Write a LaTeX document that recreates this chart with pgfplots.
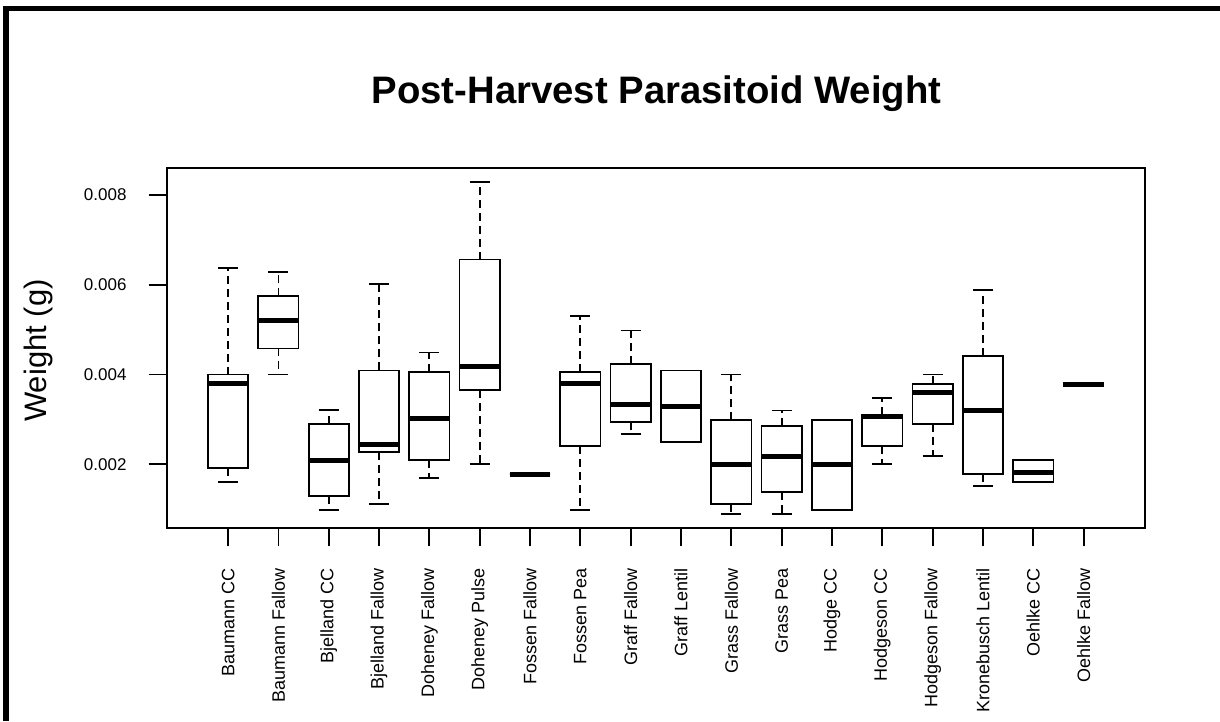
\documentclass[border=0pt]{standalone}
\usepackage{fontspec}
\setmainfont{Liberation Sans}
\usepackage{pgfplots}
\pgfplotsset{compat=1.18}
\usepgfplotslibrary{statistics}
\begin{document}
\begin{tikzpicture}[x=1pt,y=1pt]
\path[use as bounding box] (0,0) rectangle (1220,721);
\fill[black] (3,0) rectangle (9,715);
\fill[black] (3,710) rectangle (1220,715);
\node[anchor=base, font=\fontsize{38.3}{38.3}\selectfont\bfseries] at (656.5,617) {Post-Harvest Parasitoid Weight};
\node[anchor=base, rotate=90, font=\fontsize{31}{31}\selectfont] at (46.7,370.5) {Weight (g)};
\begin{axis}[
  at={(166.7pt,192.7pt)}, anchor=south west,
  scale only axis, width=978.3pt, height=360pt,
  xmin=-0.22, xmax=19.22, ymin=0.575, ymax=8.592,
  axis line style={line width=1.8pt},
  every tick/.style={black, line width=1.8pt},
  tick align=outside, major tick length=18pt,
  xtick pos=bottom, ytick pos=left,
  xtick={1,...,18},
  xticklabels={Baumann CC, Baumann Fallow, Bjelland CC, Bjelland Fallow, Doheney Fallow, Doheney Pulse, Fossen Fallow, Fossen Pea, Graff Fallow, Graff Lentil, Grass Fallow, Grass Pea, Hodge CC, Hodgeson CC, Hodgeson Fallow, Kronebusch Lentil, Oehlke CC, Oehlke Fallow},
  xticklabel style={rotate=90, anchor=east, inner sep=0pt, xshift=-22pt, font=\fontsize{18}{18}\selectfont},
  ytick={2,4,6,8},
  yticklabels={0.002,0.004,0.006,0.008},
  yticklabel style={anchor=east, inner sep=0pt, xshift=-22pt, font=\fontsize{17}{17}\selectfont},
  boxplot/draw direction=y,
  boxplot/box extend=0.8,
  boxplot/whisker extend=0.4,
  boxplot/every median/.style={line width=5pt},
  boxplot/draw/lower whisker/.code={%
    \draw[line width=1.8pt, dash pattern=on 8pt off 5pt] (boxplot box cs:\pgfplotsboxplotvalue{lower quartile},0.5) -- (boxplot box cs:\pgfplotsboxplotvalue{lower whisker},0.5);
    \draw[line width=1.8pt] (boxplot whisker cs:\pgfplotsboxplotvalue{lower whisker},0) -- (boxplot whisker cs:\pgfplotsboxplotvalue{lower whisker},1);
  },
  boxplot/draw/upper whisker/.code={%
    \draw[line width=1.8pt, dash pattern=on 8pt off 5pt] (boxplot box cs:\pgfplotsboxplotvalue{upper quartile},0.5) -- (boxplot box cs:\pgfplotsboxplotvalue{upper whisker},0.5);
    \draw[line width=1.8pt] (boxplot whisker cs:\pgfplotsboxplotvalue{upper whisker},0) -- (boxplot whisker cs:\pgfplotsboxplotvalue{upper whisker},1);
  },
]
% values in mg (g x 1000)
\addplot[black, line width=1.8pt, boxplot prepared={draw position=1, lower whisker=1.60, lower quartile=1.91, median=3.79, upper quartile=4.00, upper whisker=6.37}] coordinates {};
\addplot[black, line width=1.8pt, boxplot prepared={draw position=2, lower whisker=4.00, lower quartile=4.58, median=5.21, upper quartile=5.74, upper whisker=6.28}] coordinates {};
\addplot[black, line width=1.8pt, boxplot prepared={draw position=3, lower whisker=0.98, lower quartile=1.29, median=2.09, upper quartile=2.89, upper whisker=3.21}] coordinates {};
\addplot[black, line width=1.8pt, boxplot prepared={draw position=4, lower whisker=1.11, lower quartile=2.27, median=2.45, upper quartile=4.09, upper whisker=6.02}] coordinates {};
\addplot[black, line width=1.8pt, boxplot prepared={draw position=5, lower whisker=1.69, lower quartile=2.09, median=3.02, upper quartile=4.06, upper whisker=4.49}] coordinates {};
\addplot[black, line width=1.8pt, boxplot prepared={draw position=6, lower whisker=2.00, lower quartile=3.65, median=4.18, upper quartile=6.56, upper whisker=8.28}] coordinates {};
\addplot[black, line width=1.8pt, boxplot prepared={draw position=7, lower whisker=1.78, lower quartile=1.78, median=1.78, upper quartile=1.78, upper whisker=1.78}] coordinates {};
\addplot[black, line width=1.8pt, boxplot prepared={draw position=8, lower whisker=0.98, lower quartile=2.40, median=3.79, upper quartile=4.06, upper whisker=5.30}] coordinates {};
\addplot[black, line width=1.8pt, boxplot prepared={draw position=9, lower whisker=2.67, lower quartile=2.94, median=3.34, upper quartile=4.23, upper whisker=4.98}] coordinates {};
\addplot[black, line width=1.8pt, boxplot prepared={draw position=10, lower whisker=2.49, lower quartile=2.49, median=3.29, upper quartile=4.09, upper whisker=4.09}] coordinates {};
\addplot[black, line width=1.8pt, boxplot prepared={draw position=11, lower whisker=0.89, lower quartile=1.11, median=2.00, upper quartile=2.98, upper whisker=4.00}] coordinates {};
\addplot[black, line width=1.8pt, boxplot prepared={draw position=12, lower whisker=0.89, lower quartile=1.38, median=2.18, upper quartile=2.85, upper whisker=3.20}] coordinates {};
\addplot[black, line width=1.8pt, boxplot prepared={draw position=13, lower whisker=0.98, lower quartile=0.98, median=2.00, upper quartile=2.98, upper whisker=2.98}] coordinates {};
\addplot[black, line width=1.8pt, boxplot prepared={draw position=14, lower whisker=2.00, lower quartile=2.40, median=3.06, upper quartile=3.10, upper whisker=3.47}] coordinates {};
\addplot[black, line width=1.8pt, boxplot prepared={draw position=15, lower whisker=2.18, lower quartile=2.89, median=3.60, upper quartile=3.78, upper whisker=4.00}] coordinates {};
\addplot[black, line width=1.8pt, boxplot prepared={draw position=16, lower whisker=1.51, lower quartile=1.78, median=3.20, upper quartile=4.41, upper whisker=5.88}] coordinates {};
\addplot[black, line width=1.8pt, boxplot prepared={draw position=17, lower whisker=1.60, lower quartile=1.60, median=1.82, upper quartile=2.09, upper whisker=2.09}] coordinates {};
\addplot[black, line width=1.8pt, boxplot prepared={draw position=18, lower whisker=3.78, lower quartile=3.78, median=3.78, upper quartile=3.78, upper whisker=3.78}] coordinates {};
\end{axis}
\end{tikzpicture}
\end{document}
